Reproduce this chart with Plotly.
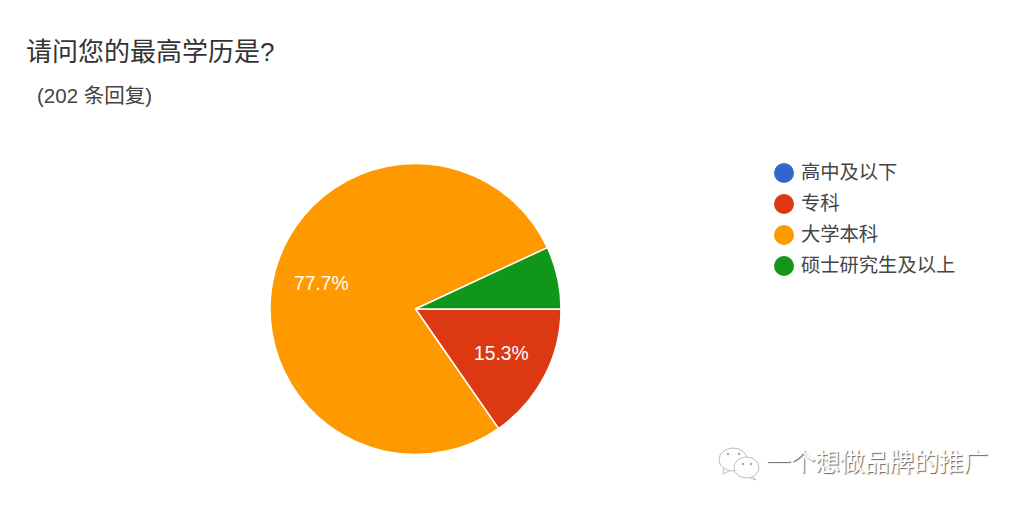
import numpy as np
import plotly.graph_objects as go

W, H = 1024, 510
FONT = "Liberation Sans, Noto Sans CJK SC, sans-serif"

categories = ["高中及以下", "专科", "大学本科", "硕士研究生及以上"]
values = [0, 31, 157, 14]
slice_colors = ["#3366cc", "#dc3912", "#ff9900", "#109618"]
title_text = "请问您的最高学历是?"
subtitle_text = "(202 条回复)"
watermark_text = "一个想做品牌的推广"
min_label_share = 0.1
start_angle = 90


def px_x(v):
    return v / W


def px_y(v):
    return 1 - v / H


fig = go.Figure()

PIE_L, PIE_R, PIE_T, PIE_B = 270, 561, 163.5, 454.5
fig.add_trace(go.Pie(
    labels=categories,
    values=values,
    sort=False,
    direction="clockwise",
    rotation=start_angle,
    textinfo="none",
    marker=dict(colors=slice_colors, line=dict(color="white", width=1.5)),
    domain=dict(x=[px_x(PIE_L), px_x(PIE_R)], y=[px_y(PIE_B), px_y(PIE_T)]),
    showlegend=False,
    hoverinfo="label+percent",
))

# Legend drawn as a marker-and-label column so the round 20px swatches can be matched
fig.add_trace(go.Scatter(
    x=[0] * len(categories),
    y=categories,
    mode="markers",
    marker=dict(color=slice_colors, size=20),
    cliponaxis=False,
    showlegend=False,
    hoverinfo="skip",
))
fig.add_trace(go.Scatter(
    x=[17] * len(categories),
    y=categories,
    mode="text",
    text=categories,
    textposition="middle right",
    textfont=dict(size=19.3, color="#444444", family=FONT),
    cliponaxis=False,
    showlegend=False,
    hoverinfo="skip",
    xaxis="x",
    yaxis="y2",
))

# WeChat glyph of the watermark
bubble = dict(type="circle", xref="paper", yref="paper", fillcolor="rgba(255,255,255,0.9)",
              line=dict(color="#bdbdbd", width=1))
tail = dict(type="path", xref="paper", yref="paper", fillcolor="rgba(255,255,255,0.9)",
            line=dict(color="#bdbdbd", width=1))


def pts(*p):
    return "M " + " L ".join(f"{px_x(x):.5f} {px_y(y):.5f}" for x, y in p) + " Z"


shapes = [
    dict(tail, path=pts((724, 466), (723, 474), (731, 470))),
    dict(bubble, x0=px_x(719), x1=px_x(747), y0=px_y(471), y1=px_y(448)),
    dict(tail, path=pts((750, 474), (756, 480), (745, 476))),
    dict(bubble, x0=px_x(734), x1=px_x(759), y0=px_y(478), y1=px_y(457)),
]
for cx, cy in [(728, 454), (739, 454), (743, 464), (751, 464)]:
    shapes.append(dict(type="circle", xref="paper", yref="paper",
                       x0=px_x(cx - 1.2), x1=px_x(cx + 1.2), y0=px_y(cy + 1.2), y1=px_y(cy - 1.2),
                       fillcolor="#a8a8a8", line=dict(width=0)))

annotations = [
    dict(text=title_text, xref="paper", yref="paper", x=px_x(24), y=px_y(52),
         xanchor="left", yanchor="middle", showarrow=False,
         font=dict(size=26, color="#333333", family=FONT)),
    dict(text=subtitle_text, xref="paper", yref="paper", x=px_x(35), y=px_y(95),
         xanchor="left", yanchor="middle", showarrow=False,
         font=dict(size=20.5, color="#444444", family=FONT)),
    dict(text=watermark_text, xref="paper", yref="paper", x=px_x(764), y=px_y(462),
         xanchor="left", yanchor="middle", showarrow=False,
         font=dict(size=24.7, color="#ffffff", family=FONT,
                   shadow="1px 1px 1px #666666")),
]

# Percentage labels sit at 2/3 of the radius on each slice's mid-angle, small slices unlabelled
shares = np.array(values) / sum(values)
mid_fracs = np.cumsum(shares) - shares / 2
cx, cy = (PIE_L + PIE_R) / 2, (PIE_T + PIE_B) / 2
label_r = (PIE_R - PIE_L) / 2 * 2 / 3
for share, frac in zip(shares, mid_fracs):
    if share < min_label_share:
        continue
    a = np.radians(start_angle + frac * 360)
    annotations.append(dict(
        text=f"{share * 100:.1f}%", xref="paper", yref="paper",
        x=px_x(cx + label_r * np.sin(a)), y=px_y(cy - label_r * np.cos(a)),
        xanchor="center", yanchor="middle", showarrow=False,
        font=dict(size=19.3, color="white", family="Liberation Sans, sans-serif"),
    ))

fig.update_layout(
    width=W,
    height=H,
    margin=dict(l=0, r=0, t=0, b=0),
    paper_bgcolor="white",
    plot_bgcolor="rgba(0,0,0,0)",
    xaxis=dict(domain=[px_x(764), px_x(1000)], range=[-20, 216], visible=False, fixedrange=True),
    yaxis=dict(domain=[px_y(281.5), px_y(157.5)], type="category",
               categoryorder="array", categoryarray=categories,
               range=[3.5, -0.5], visible=False, fixedrange=True),
    yaxis2=dict(domain=[px_y(282.5), px_y(158.5)], type="category",
                categoryorder="array", categoryarray=categories,
                range=[3.5, -0.5], visible=False, fixedrange=True),
    shapes=shapes,
    annotations=annotations,
)

fig.write_html("out.html", config={"displayModeBar": False},
               post_script="document.body.style.margin='0';")
